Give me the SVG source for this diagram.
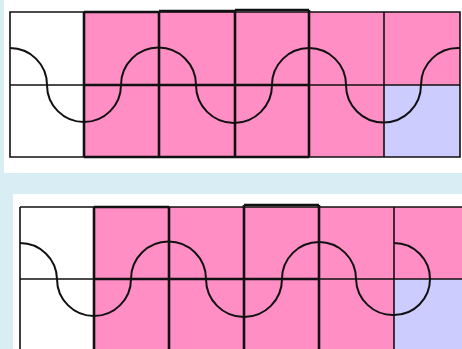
<svg xmlns="http://www.w3.org/2000/svg" width="462" height="349" viewBox="0 0 462 349">
<style>
.pk{fill:#ff8ec4}
.lv{fill:#ccccff}
.ln{fill:none;stroke:#111;stroke-width:1.6}
.tk{fill:none;stroke:#111;stroke-width:2.6}
.wv{fill:none;stroke:#111;stroke-width:2}
</style>
<rect width="462" height="349" fill="#d9edf5"/>
<g id="panel-top">
<rect x="4" y="0" width="458" height="173" fill="#fff"/>
<rect class="pk" x="84" y="12" width="376" height="145"/>
<rect class="lv" x="384" y="85" width="76" height="72"/>
<path class="ln" d="M10 12H460V157H10Z M10 85H460 M84 12V157 M159 12V157 M235 12V157 M309 12V157 M384 12V157"/>
<path class="tk" d="M84 12H159 M159 11H235 M235 10H309 M84 12V157 M159 11V157 M235 10V157 M309 10V157 M84 85H309 M84 157H309"/>
<path class="wv" d="M10 48A37 37 0 0 1 47 85A37 37 0 0 0 121 85A37 37 0 0 1 196 85A37 37 0 0 0 272 85A37 37 0 0 1 346 85A37 37 0 0 0 421 85A37 37 0 0 1 460 48"/>
</g>
<g id="panel-bottom">
<rect x="13" y="194" width="449" height="155" fill="#fff"/>
<rect class="pk" x="94" y="207" width="368" height="144"/>
<rect class="lv" x="394" y="279" width="68" height="72"/>
<path class="ln" d="M20 207H462 M20 207V351 M20 279H462 M94 207V351 M169 207V351 M244 207V351 M319 207V351 M394 207V351"/>
<path class="tk" d="M94 207H169 M244 205H319 M94 207V351 M169 207V351 M244 205V351 M319 205V351 M94 279H319"/>
<path class="wv" d="M20 243A37 37 0 0 1 57 279A37 37 0 0 0 131 279A37 37 0 0 1 206 279A37 37 0 0 0 282 279A37 37 0 0 1 356 279A37 37 0 0 0 394 315A36 36 0 0 0 394 243"/>
</g>
</svg>
